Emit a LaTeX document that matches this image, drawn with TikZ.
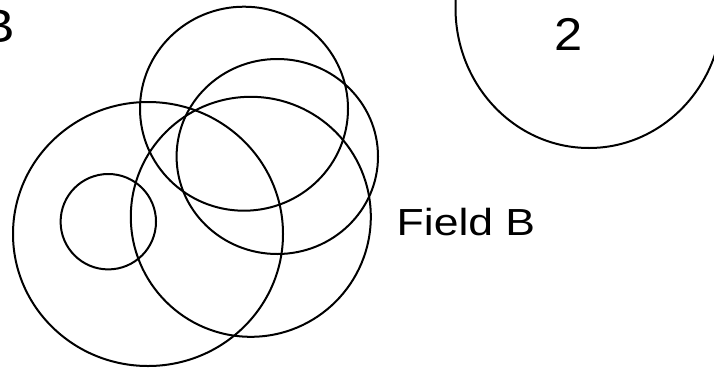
\documentclass[tikz,border=0pt]{standalone}
\usepackage{fontspec}
\setmainfont{Liberation Sans}
\tikzset{
  ring/.style={draw=black, line width=2pt},
  lbl/.style={inner sep=0pt, text=black}
}
\begin{document}
\begin{tikzpicture}[x=1pt,y=-1pt]
\useasboundingbox (0,0) rectangle (714,367);
\clip (0,0) rectangle (714,367);
\fill[white] (0,0) rectangle (714,367);
% circles
\draw[ring] (148,234) ellipse [x radius=135, y radius=132];
\draw[ring] (108.3,221.7) ellipse [x radius=47.7, y radius=47.7];
\draw[ring] (244,108.7) ellipse [x radius=104, y radius=102];
\draw[ring] (277.3,156.5) ellipse [x radius=100.7, y radius=97.5];
\draw[ring] (250.8,216.8) ellipse [x radius=120, y radius=120];
\draw[ring] (589,8) ellipse [x radius=133.5, y radius=140];
% labels
\node[lbl, anchor=base, font=\fontsize{46}{50}\selectfont, xscale=1.1] (two) at (569,50) {2};
\node[lbl, anchor=base west, font=\fontsize{37.7}{40}\selectfont, xscale=1.18] (fieldB) at (396.5,235) {Field B};
\node[lbl, anchor=base east, font=\fontsize{47}{50}\selectfont, xscale=1.1] (topB) at (15.5,42) {B};
\end{tikzpicture}
\end{document}
